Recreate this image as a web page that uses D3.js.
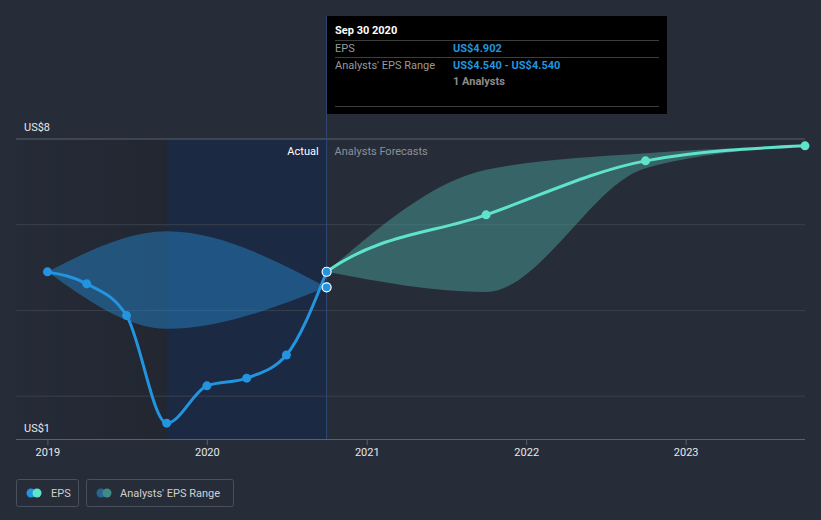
<!DOCTYPE html>
<html><head><meta charset="utf-8">
<script src="https://cdn.jsdelivr.net/npm/d3@7"></script>
<style>
html,body{margin:0;padding:0;background:#262c38;}
svg{display:block;font-family:Roboto,"Noto Sans",sans-serif;}
</style></head>
<body>
<svg id="c" width="821" height="520"></svg>
<script>
// ---- data ----
const actualDates = ["2018-12-31","2019-03-31","2019-06-30","2019-09-30","2019-12-31","2020-03-31","2020-06-30","2020-09-30"];
const actualEPS   = [4.90, 4.62, 3.88, 1.37, 2.24, 2.42, 2.96, 4.902];
const pastRangeDates = ["2018-12-31","2019-09-30","2020-09-30"];
const pastRangeLow   = [4.90, 3.57, 4.54];
const pastRangeHigh  = [4.90, 5.85, 4.54];
const forecastDates = ["2020-09-30","2021-09-30","2022-09-30","2023-09-30"];
const forecastEPS   = [4.902, 6.23, 7.49, 7.84];
const forecastLow   = [4.902, 4.43, 7.32, 7.84];
const forecastHigh  = [4.902, 7.28, 7.67, 7.84];
const yearTicks = ["2019","2020","2021","2022","2023"];
const yTickValues = [2, 4, 6, 8];
const yLabels = [{v:8, t:"US$8"}, {v:1, t:"US$1"}];

const BLUE = "#2394df", TEAL = "#5fe3cb";
const parse = d3.timeParse("%Y-%m-%d");
const svg = d3.select("#c");

const x = d3.scaleTime().domain([parse("2018-10-20"), parse("2023-09-30")]).range([16, 805]);
const y = d3.scaleLinear().domain([1, 8]).range([439, 139]);

const defs = svg.append("defs");
const g1 = defs.append("linearGradient").attr("id","pastShade").attr("x1","0").attr("x2","1");
g1.append("stop").attr("offset","0").attr("stop-color","#000").attr("stop-opacity",0.02);
g1.append("stop").attr("offset","1").attr("stop-color","#000").attr("stop-opacity",0.12);

const xNow = x(parse("2020-09-30")), xYearAgo = x(parse("2019-09-30"));
defs.append("clipPath").attr("id","fcClip").append("rect")
  .attr("x",xNow).attr("y",0).attr("width",821-xNow).attr("height",520);

// shaded regions
svg.append("rect").attr("x",16).attr("y",139).attr("width",xYearAgo-16).attr("height",300).attr("fill","url(#pastShade)");
svg.append("rect").attr("x",xYearAgo).attr("y",139).attr("width",xNow-xYearAgo).attr("height",300).attr("fill","#12264d").attr("opacity",0.5);

// grid
svg.append("g").selectAll("line").data(yTickValues).join("line")
  .attr("x1",16).attr("x2",805).attr("y1",d=>y(d)).attr("y2",d=>y(d))
  .attr("stroke",d=>d===8?"#5a606c":"#3a404c").attr("stroke-width",1);

// y labels
svg.append("g").selectAll("text").data(yLabels).join("text")
  .attr("x",24).attr("y",d=>d.v===8? y(d.v)-8 : y(d.v)-7)
  .attr("fill","#e8e8e8").attr("font-size",11).text(d=>d.t);

// vertical now line
svg.append("line").attr("x1",xNow).attr("x2",xNow).attr("y1",16).attr("y2",439)
  .attr("stroke","#2c4a78").attr("stroke-width",1);

// past range band
const pastBand = pastRangeDates.map((d,i)=>({d:parse(d), lo:pastRangeLow[i], hi:pastRangeHigh[i]}));
svg.append("path").datum(pastBand)
  .attr("d", d3.area().curve(d3.curveMonotoneX).x(d=>x(d.d)).y0(d=>y(d.lo)).y1(d=>y(d.hi)))
  .attr("fill","#2478b8").attr("opacity",0.55);

// forecast band
const fcBand = forecastDates.map((d,i)=>({d:parse(d), lo:forecastLow[i], hi:forecastHigh[i]}));
svg.append("path").datum(fcBand)
  .attr("d", d3.area().curve(d3.curveMonotoneX).x(d=>x(d.d)).y0(d=>y(d.lo)).y1(d=>y(d.hi)))
  .attr("fill","#4fb3a6").attr("opacity",0.42);

// labels Actual / Analysts Forecasts
svg.append("text").attr("x",xNow-8).attr("y",155).attr("text-anchor","end").attr("fill","#ffffff").attr("font-size",11).text("Actual");
svg.append("text").attr("x",xNow+8).attr("y",155).attr("fill","#8c919b").attr("font-size",11).text("Analysts Forecasts");

// lines
const act = actualDates.map((d,i)=>({d:parse(d), v:actualEPS[i]}));
const fc = forecastDates.map((d,i)=>({d:parse(d), v:forecastEPS[i]}));
const line = d3.line().curve(d3.curveMonotoneX).x(d=>x(d.d)).y(d=>y(d.v));
svg.append("path").datum(act).attr("d",line).attr("fill","none").attr("stroke",BLUE).attr("stroke-width",3);
// forecast line drawn as a continuation of the actual series (for smooth tangent), clipped to the forecast side
const fcCont = [act[act.length-2]].concat(fc);
svg.append("path").datum(fcCont).attr("d",line).attr("clip-path","url(#fcClip)")
  .attr("fill","none").attr("stroke",TEAL).attr("stroke-width",3);

// points
svg.append("g").selectAll("circle").data(act.slice(0,-1)).join("circle")
  .attr("cx",d=>x(d.d)).attr("cy",d=>y(d.v)).attr("r",4.5).attr("fill",BLUE);
svg.append("g").selectAll("circle").data(fc.slice(1)).join("circle")
  .attr("cx",d=>x(d.d)).attr("cy",d=>y(d.v)).attr("r",4.5).attr("fill",TEAL);
// highlighted current points
svg.append("circle").attr("cx",xNow).attr("cy",y(pastRangeLow[2])).attr("r",4.5).attr("fill",BLUE).attr("stroke","#fff").attr("stroke-width",1.2);
svg.append("circle").attr("cx",xNow).attr("cy",y(actualEPS[actualEPS.length-1])).attr("r",4.5).attr("fill",BLUE).attr("stroke","#fff").attr("stroke-width",1.2);

// x axis
svg.append("line").attr("x1",16).attr("x2",805).attr("y1",439.5).attr("y2",439.5).attr("stroke","#5a606c");
const xt = svg.append("g").selectAll("g").data(yearTicks).join("g")
  .attr("transform",d=>`translate(${x(parse(d+"-01-01"))},0)`);
xt.append("line").attr("y1",440).attr("y2",445).attr("stroke","#5a606c");
xt.append("text").attr("y",456).attr("text-anchor","middle").attr("fill","#e8e8e8").attr("font-size",11).text(d=>d);

// tooltip
const tt = svg.append("g");
tt.append("rect").attr("x",327).attr("y",16).attr("width",340).attr("height",98).attr("fill","#000");
tt.append("text").attr("x",335).attr("y",34).attr("fill","#fff").attr("font-size",11).attr("font-weight","bold").text("Sep 30 2020");
[40.5,57.5,106.5].forEach(yy=>tt.append("line").attr("x1",335).attr("x2",659).attr("y1",yy).attr("y2",yy).attr("stroke","#3d3d3d"));
tt.append("text").attr("x",335).attr("y",52).attr("fill","#9a9a9a").attr("font-size",11).text("EPS");
tt.append("text").attr("x",453).attr("y",52).attr("fill",BLUE).attr("font-size",11).attr("font-weight","bold").text("US$"+actualEPS[actualEPS.length-1].toFixed(3));
tt.append("text").attr("x",335).attr("y",69).attr("fill","#9a9a9a").attr("font-size",11).text("Analysts' EPS Range");
tt.append("text").attr("x",453).attr("y",69).attr("fill",BLUE).attr("font-size",11).attr("font-weight","bold").text("US$"+pastRangeLow[2].toFixed(3)+" - US$"+pastRangeHigh[2].toFixed(3));
tt.append("text").attr("x",453).attr("y",85).attr("fill","#8c8c8c").attr("font-size",11).attr("font-weight","bold").text("1 Analysts");

// legend
const lg = svg.append("g");
lg.append("rect").attr("x",16.5).attr("y",479.5).attr("width",62).attr("height",27).attr("rx",2).attr("fill","none").attr("stroke","#4a505c");
lg.append("circle").attr("cx",31).attr("cy",493).attr("r",4.5).attr("fill",BLUE);
lg.append("circle").attr("cx",37).attr("cy",493).attr("r",4.5).attr("fill",TEAL);
lg.append("text").attr("x",51).attr("y",497).attr("fill","#d0d0d0").attr("font-size",11).text("EPS");
lg.append("rect").attr("x",86.5).attr("y",479.5).attr("width",147).attr("height",27).attr("rx",2).attr("fill","none").attr("stroke","#4a505c");
lg.append("circle").attr("cx",101).attr("cy",493).attr("r",4.5).attr("fill","#2a6493");
lg.append("circle").attr("cx",107).attr("cy",493).attr("r",4.5).attr("fill","#3f8b87");
lg.append("text").attr("x",120).attr("y",497).attr("fill","#d0d0d0").attr("font-size",11).text("Analysts' EPS Range");
</script>
</body></html>
